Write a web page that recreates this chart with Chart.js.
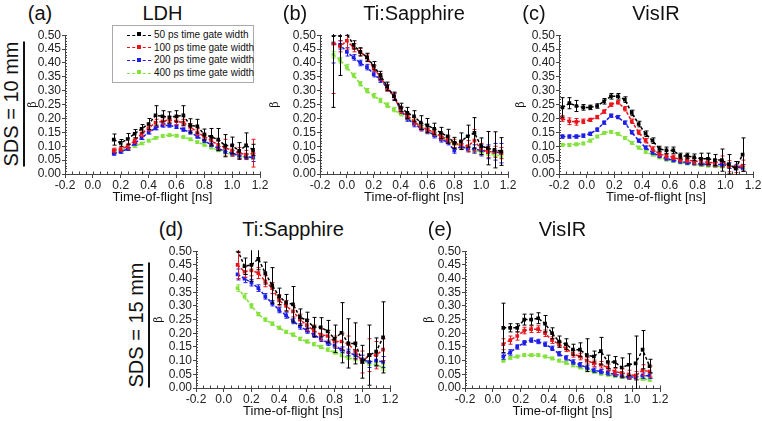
<!DOCTYPE html>
<html>
<head>
<meta charset="utf-8">
<script src="https://cdn.jsdelivr.net/npm/chart.js@4.4.0/dist/chart.umd.min.js"></script>
<style>
  body { margin: 0; width: 762px; height: 421px; background: #fff; position: relative; overflow: hidden;
         font-family: "Liberation Sans", Arial, sans-serif; color: #111; }
  canvas { position: absolute; }
  .ttl { position: absolute; font-size: 20px; line-height: 20px; white-space: nowrap; transform: translate(-50%, -50%); }
  .sds { position: absolute; font-size: 20px; line-height: 20px; white-space: nowrap; text-decoration: underline;
         text-decoration-thickness: 1.5px; text-underline-offset: 5px; transform: translate(-50%, -50%) rotate(-90deg); }
  #legend { position: absolute; left: 112px; top: 25px; width: 142px; height: 58px; border: 1px solid #aaa;
            background: #fff; font-size: 10px; line-height: 12.6px; padding-top: 3px; box-sizing: border-box; }
  #legend .row { white-space: nowrap; padding-left: 14px; }
  #legend .smp { display: inline-block; position: relative; width: 24px; height: 0; border-top: 1.5px dashed;
                 vertical-align: middle; margin-right: 3px; }
  #legend .smp i { position: absolute; left: 10px; top: -3.5px; width: 4px; height: 4px; }
</style>
</head>
<body>
<div id="legend"></div>
<script>
// ---- data ----
const seriesNames = ['50 ps time gate width', '100 ps time gate width', '200 ps time gate width', '400 ps time gate width'];
const xTicks = [-0.2, 0.0, 0.2, 0.4, 0.6, 0.8, 1.0, 1.2];
const xTickLabels = ['-0.2', '0.0', '0.2', '0.4', '0.6', '0.8', '1.0', '1.2'];
const yTicks = [0.00, 0.05, 0.10, 0.15, 0.20, 0.25, 0.30, 0.35, 0.40, 0.45, 0.50];
const yTickLabels = ['0.00', '0.05', '0.10', '0.15', '0.20', '0.25', '0.30', '0.35', '0.40', '0.45', '0.50'];

// (a) LDH, SDS = 10 mm
const aTime = [0.15, 0.20, 0.25, 0.30, 0.35, 0.40, 0.45, 0.50, 0.55, 0.60, 0.65, 0.70, 0.75, 0.80, 0.85, 0.90, 0.95, 1.00, 1.05, 1.10, 1.15];
const aBlack = [0.124, 0.112, 0.126, 0.145, 0.163, 0.180, 0.211, 0.208, 0.204, 0.208, 0.211, 0.174, 0.172, 0.142, 0.134, 0.124, 0.102, 0.103, 0.083, 0.103, 0.087];
const aBlackErr = [0.02, 0.012, 0.02, 0.015, 0.015, 0.02, 0.035, 0.02, 0.02, 0.02, 0.035, 0.025, 0.025, 0.02, 0.03, 0.04, 0.04, 0.03, 0.03, 0.045, 0.02];
const aRed = [0.085, 0.090, 0.100, 0.120, 0.145, 0.165, 0.185, 0.190, 0.195, 0.190, 0.185, 0.170, 0.150, 0.135, 0.120, 0.105, 0.095, 0.085, 0.075, 0.070, 0.075];
const aRedErr = [0.008, 0.008, 0.01, 0.01, 0.01, 0.01, 0.012, 0.012, 0.012, 0.012, 0.012, 0.012, 0.012, 0.012, 0.015, 0.015, 0.03, 0.02, 0.02, 0.015, 0.05];
const aBlue = [0.073, 0.080, 0.090, 0.110, 0.130, 0.150, 0.165, 0.175, 0.175, 0.170, 0.160, 0.150, 0.135, 0.120, 0.105, 0.092, 0.082, 0.075, 0.067, 0.062, 0.060];
const aBlueErr = [0.005, 0.005, 0.005, 0.006, 0.006, 0.006, 0.006, 0.006, 0.006, 0.006, 0.006, 0.006, 0.006, 0.006, 0.006, 0.007, 0.008, 0.01, 0.01, 0.01, 0.015];
const aGreen = [0.080, 0.085, 0.090, 0.100, 0.110, 0.120, 0.130, 0.137, 0.140, 0.138, 0.133, 0.125, 0.115, 0.105, 0.095, 0.085, 0.077, 0.070, 0.065, 0.060, 0.058];
const aGreenErr = [0.004, 0.004, 0.004, 0.004, 0.004, 0.004, 0.004, 0.004, 0.004, 0.004, 0.004, 0.004, 0.004, 0.004, 0.004, 0.004, 0.004, 0.004, 0.004, 0.004, 0.004];

// (b) Ti:Sapphire, SDS = 10 mm
const bTime = [-0.10, -0.05, 0.00, 0.05, 0.10, 0.15, 0.20, 0.25, 0.30, 0.35, 0.40, 0.45, 0.50, 0.55, 0.60, 0.65, 0.70, 0.75, 0.80, 0.85, 0.90, 0.95, 1.00, 1.05, 1.10, 1.15];
const bBlack = [0.500, 0.500, 0.505, 0.465, 0.440, 0.420, 0.390, 0.355, 0.316, 0.280, 0.240, 0.220, 0.208, 0.185, 0.175, 0.163, 0.148, 0.136, 0.112, 0.118, 0.136, 0.148, 0.100, 0.093, 0.087, 0.081];
const bBlackErr = [0.26, 0.145, 0.005, 0.015, 0.015, 0.015, 0.015, 0.015, 0.015, 0.015, 0.015, 0.02, 0.02, 0.025, 0.025, 0.02, 0.02, 0.025, 0.02, 0.03, 0.04, 0.055, 0.03, 0.06, 0.065, 0.05];
const bRed = [0.470, 0.460, 0.480, 0.455, 0.440, 0.420, 0.380, 0.350, 0.310, 0.280, 0.230, 0.210, 0.190, 0.170, 0.160, 0.150, 0.135, 0.125, 0.110, 0.105, 0.100, 0.120, 0.090, 0.080, 0.080, 0.075];
const bRedErr = [0.18, 0.02, 0.03, 0.015, 0.012, 0.012, 0.012, 0.012, 0.012, 0.012, 0.012, 0.012, 0.012, 0.012, 0.012, 0.012, 0.012, 0.012, 0.015, 0.015, 0.02, 0.04, 0.02, 0.02, 0.02, 0.02];
const bBlue = [0.470, 0.465, 0.440, 0.420, 0.400, 0.385, 0.360, 0.340, 0.310, 0.280, 0.230, 0.200, 0.180, 0.165, 0.155, 0.140, 0.125, 0.115, 0.085, 0.100, 0.090, 0.090, 0.085, 0.080, 0.080, 0.075];
const bBlueErr = [0.07, 0.015, 0.015, 0.01, 0.01, 0.01, 0.01, 0.01, 0.01, 0.01, 0.01, 0.01, 0.01, 0.01, 0.01, 0.01, 0.01, 0.01, 0.01, 0.01, 0.01, 0.015, 0.02, 0.025, 0.03, 0.035];
const bGreen = [0.430, 0.410, 0.385, 0.355, 0.325, 0.300, 0.282, 0.265, 0.248, 0.232, 0.217, 0.202, 0.187, 0.172, 0.158, 0.144, 0.131, 0.120, 0.110, 0.100, 0.092, 0.085, 0.080, 0.075, 0.070, 0.065];
const bGreenErr = [0.012, 0.01, 0.01, 0.008, 0.008, 0.008, 0.008, 0.008, 0.008, 0.008, 0.008, 0.008, 0.008, 0.008, 0.008, 0.008, 0.008, 0.008, 0.008, 0.008, 0.008, 0.008, 0.008, 0.008, 0.008, 0.008];

// (c) VisIR, SDS = 10 mm
const cTime = [-0.175, -0.125, -0.075, -0.025, 0.025, 0.075, 0.125, 0.175, 0.225, 0.275, 0.325, 0.375, 0.425, 0.475, 0.525, 0.575, 0.625, 0.675, 0.725, 0.775, 0.825, 0.875, 0.925, 0.975, 1.025, 1.075, 1.125];
const cBlack = [0.240, 0.255, 0.245, 0.240, 0.240, 0.245, 0.262, 0.280, 0.280, 0.268, 0.220, 0.180, 0.145, 0.120, 0.090, 0.085, 0.085, 0.065, 0.065, 0.060, 0.055, 0.055, 0.050, 0.050, 0.035, 0.020, 0.070];
const cBlackErr = [0.035, 0.02, 0.02, 0.01, 0.008, 0.008, 0.01, 0.01, 0.01, 0.01, 0.01, 0.01, 0.01, 0.01, 0.01, 0.012, 0.012, 0.01, 0.01, 0.012, 0.02, 0.02, 0.02, 0.04, 0.035, 0.025, 0.06];
const cRed = [0.200, 0.190, 0.188, 0.190, 0.195, 0.205, 0.225, 0.250, 0.258, 0.235, 0.190, 0.150, 0.120, 0.090, 0.072, 0.065, 0.060, 0.052, 0.050, 0.046, 0.045, 0.042, 0.040, 0.045, 0.028, 0.025, 0.030];
const cRedErr = [0.01, 0.012, 0.012, 0.008, 0.006, 0.006, 0.006, 0.006, 0.006, 0.008, 0.008, 0.008, 0.008, 0.008, 0.008, 0.008, 0.008, 0.008, 0.008, 0.01, 0.012, 0.012, 0.012, 0.02, 0.02, 0.02, 0.02];
const cBlue = [0.135, 0.135, 0.135, 0.138, 0.145, 0.160, 0.185, 0.210, 0.205, 0.185, 0.150, 0.120, 0.095, 0.077, 0.065, 0.056, 0.050, 0.045, 0.041, 0.039, 0.036, 0.035, 0.034, 0.034, 0.030, 0.025, 0.022];
const cBlueErr = [0.006, 0.006, 0.006, 0.006, 0.006, 0.006, 0.006, 0.006, 0.006, 0.006, 0.006, 0.006, 0.006, 0.006, 0.006, 0.006, 0.006, 0.006, 0.006, 0.006, 0.006, 0.006, 0.008, 0.008, 0.01, 0.01, 0.012];
const cGreen = [0.105, 0.105, 0.107, 0.110, 0.120, 0.135, 0.148, 0.152, 0.145, 0.130, 0.112, 0.095, 0.080, 0.070, 0.060, 0.052, 0.047, 0.042, 0.038, 0.035, 0.032, 0.030, 0.028, 0.027, 0.025, 0.025, 0.023];
const cGreenErr = [0.005, 0.005, 0.005, 0.005, 0.005, 0.005, 0.005, 0.005, 0.005, 0.005, 0.005, 0.005, 0.005, 0.005, 0.005, 0.005, 0.005, 0.005, 0.005, 0.005, 0.005, 0.005, 0.005, 0.005, 0.005, 0.005, 0.005];

// (d) Ti:Sapphire, SDS = 15 mm
const dTime = [0.10, 0.15, 0.20, 0.25, 0.30, 0.35, 0.40, 0.45, 0.50, 0.55, 0.60, 0.65, 0.70, 0.75, 0.80, 0.85, 0.90, 0.95, 1.00, 1.05, 1.10, 1.15];
const dBlack = [0.505, 0.445, 0.450, 0.472, 0.420, 0.375, 0.335, 0.312, 0.306, 0.259, 0.247, 0.223, 0.222, 0.207, 0.180, 0.202, 0.163, 0.163, 0.096, 0.120, 0.133, 0.185];
const dBlackErr = [0.01, 0.03, 0.06, 0.04, 0.04, 0.065, 0.03, 0.03, 0.065, 0.03, 0.03, 0.035, 0.035, 0.04, 0.05, 0.11, 0.09, 0.075, 0.06, 0.11, 0.05, 0.13];
const dRed = [0.450, 0.425, 0.430, 0.420, 0.390, 0.365, 0.320, 0.300, 0.280, 0.250, 0.230, 0.210, 0.195, 0.190, 0.170, 0.170, 0.160, 0.135, 0.095, 0.120, 0.120, 0.140];
const dRedErr = [0.05, 0.02, 0.02, 0.02, 0.02, 0.02, 0.02, 0.02, 0.02, 0.02, 0.02, 0.02, 0.02, 0.02, 0.02, 0.03, 0.03, 0.03, 0.04, 0.06, 0.05, 0.04];
const dBlue = [0.415, 0.400, 0.385, 0.365, 0.335, 0.310, 0.285, 0.265, 0.245, 0.225, 0.210, 0.195, 0.180, 0.165, 0.155, 0.140, 0.130, 0.120, 0.105, 0.095, 0.100, 0.095];
const dBlueErr = [0.02, 0.015, 0.012, 0.012, 0.01, 0.01, 0.01, 0.01, 0.01, 0.01, 0.01, 0.01, 0.01, 0.01, 0.01, 0.01, 0.012, 0.012, 0.015, 0.02, 0.02, 0.02];
const dGreen = [0.365, 0.335, 0.300, 0.270, 0.250, 0.235, 0.220, 0.205, 0.195, 0.180, 0.170, 0.160, 0.150, 0.140, 0.130, 0.120, 0.110, 0.105, 0.100, 0.090, 0.085, 0.075];
const dGreenErr = [0.012, 0.01, 0.008, 0.006, 0.006, 0.006, 0.006, 0.006, 0.006, 0.006, 0.006, 0.006, 0.006, 0.006, 0.006, 0.006, 0.006, 0.006, 0.008, 0.008, 0.008, 0.01];

// (e) VisIR, SDS = 15 mm
const eTime = [0.075, 0.125, 0.175, 0.225, 0.275, 0.325, 0.375, 0.425, 0.475, 0.525, 0.575, 0.625, 0.675, 0.725, 0.775, 0.825, 0.875, 0.925, 0.975, 1.025, 1.075, 1.125];
const eBlack = [0.220, 0.220, 0.220, 0.250, 0.250, 0.255, 0.235, 0.200, 0.170, 0.160, 0.140, 0.140, 0.120, 0.115, 0.135, 0.095, 0.095, 0.075, 0.085, 0.090, 0.140, 0.080];
const eBlackErr = [0.09, 0.015, 0.015, 0.02, 0.02, 0.02, 0.03, 0.02, 0.02, 0.02, 0.02, 0.025, 0.06, 0.02, 0.05, 0.025, 0.02, 0.035, 0.04, 0.10, 0.07, 0.025];
const eRed = [0.160, 0.175, 0.190, 0.210, 0.215, 0.215, 0.200, 0.175, 0.160, 0.145, 0.125, 0.115, 0.100, 0.090, 0.085, 0.075, 0.060, 0.055, 0.050, 0.045, 0.065, 0.060];
const eRedErr = [0.02, 0.015, 0.015, 0.012, 0.012, 0.012, 0.012, 0.012, 0.012, 0.012, 0.012, 0.012, 0.012, 0.012, 0.012, 0.012, 0.012, 0.015, 0.015, 0.015, 0.02, 0.02];
const eBlue = [0.115, 0.130, 0.150, 0.165, 0.175, 0.170, 0.160, 0.145, 0.125, 0.110, 0.095, 0.085, 0.075, 0.065, 0.060, 0.055, 0.050, 0.045, 0.040, 0.040, 0.045, 0.045];
const eBlueErr = [0.01, 0.01, 0.008, 0.008, 0.008, 0.008, 0.008, 0.008, 0.008, 0.008, 0.008, 0.008, 0.008, 0.008, 0.008, 0.008, 0.008, 0.008, 0.008, 0.01, 0.01, 0.01];
const eGreen = [0.100, 0.110, 0.115, 0.120, 0.120, 0.120, 0.115, 0.108, 0.100, 0.092, 0.083, 0.075, 0.065, 0.058, 0.052, 0.048, 0.043, 0.040, 0.037, 0.035, 0.033, 0.030];
const eGreenErr = [0.005, 0.005, 0.005, 0.005, 0.005, 0.005, 0.005, 0.005, 0.005, 0.005, 0.005, 0.005, 0.005, 0.005, 0.005, 0.005, 0.005, 0.005, 0.005, 0.005, 0.005, 0.005];

// ---- styling / layout ----
const FONT = '"Liberation Sans", Arial, sans-serif';
const colors = ['#000000', '#e8161c', '#1d1de8', '#84e23c'];
const XH = 34, PT = 8, PR = 10;

const panels = [
  { letter: '(a)', title: 'LDH',         l: 65,  t: 35,  r: 260, b: 174, yw: 38, x: aTime, ys: [aBlack, aRed, aBlue, aGreen], errs: [aBlackErr, aRedErr, aBlueErr, aGreenErr] },
  { letter: '(b)', title: 'Ti:Sapphire', l: 320, t: 35,  r: 508, b: 174, yw: 51, x: bTime, ys: [bBlack, bRed, bBlue, bGreen], errs: [bBlackErr, bRedErr, bBlueErr, bGreenErr] },
  { letter: '(c)', title: 'VisIR',       l: 559, t: 35,  r: 753, b: 174, yw: 44, x: cTime, ys: [cBlack, cRed, cBlue, cGreen], errs: [cBlackErr, cRedErr, cBlueErr, cGreenErr] },
  { letter: '(d)', title: 'Ti:Sapphire', l: 196, t: 251, r: 390, b: 388, yw: 43, x: dTime, ys: [dBlack, dRed, dBlue, dGreen], errs: [dBlackErr, dRedErr, dBlueErr, dGreenErr] },
  { letter: '(e)', title: 'VisIR',       l: 465, t: 251, r: 660, b: 388, yw: 42, x: eTime, ys: [eBlack, eRed, eBlue, eGreen], errs: [eBlackErr, eRedErr, eBlueErr, eGreenErr] }
];

// error bars drawn underneath each dataset
const errorBars = {
  id: 'errorBars',
  beforeDatasetDraw(chart, args) {
    const ds = chart.data.datasets[args.index];
    if (!ds.err) return;
    const { ctx, chartArea: a, scales: { x, y } } = chart;
    ctx.save();
    ctx.beginPath();
    ctx.rect(a.left, a.top - 1, a.right - a.left, a.bottom - a.top + 2);
    ctx.clip();
    ctx.strokeStyle = ds.borderColor;
    ctx.lineWidth = 1;
    ds.data.forEach((p, i) => {
      const e = ds.err[i];
      const px = Math.round(x.getPixelForValue(p.x)) + 0.5;
      const y1 = y.getPixelForValue(p.y + e), y2 = y.getPixelForValue(p.y - e);
      ctx.beginPath();
      ctx.moveTo(px, y1); ctx.lineTo(px, y2);
      ctx.moveTo(px - 2, y1); ctx.lineTo(px + 2, y1);
      ctx.moveTo(px - 2, y2); ctx.lineTo(px + 2, y2);
      ctx.stroke();
    });
    ctx.restore();
  }
};

// small inward minor ticks like the original plot
const minorTicks = {
  id: 'minorTicks',
  afterDraw(chart) {
    const { ctx, chartArea: a, scales: { x, y } } = chart;
    ctx.save();
    ctx.strokeStyle = '#444';
    ctx.lineWidth = 1;
    ctx.beginPath();
    for (let k = 0; k <= 50; k++) {
      const py = Math.round(y.getPixelForValue(k / 100)) + 0.5;
      ctx.moveTo(a.left, py); ctx.lineTo(a.left + 2, py);
    }
    for (let k = -4; k <= 24; k++) {
      const px = Math.round(x.getPixelForValue(k / 20)) + 0.5;
      ctx.moveTo(px, a.bottom); ctx.lineTo(px, a.bottom - 2.5);
    }
    ctx.stroke();
    ctx.restore();
  }
};

function addDiv(cls, text, x, y) {
  const d = document.createElement('div');
  d.className = cls;
  d.textContent = text;
  d.style.left = x + 'px';
  d.style.top = y + 'px';
  document.body.appendChild(d);
}

panels.forEach(p => {
  const cv = document.createElement('canvas');
  const w = (p.r - p.l) + p.yw + PR, h = (p.b - p.t) + PT + XH;
  cv.width = w; cv.height = h;
  cv.style.left = (p.l - p.yw) + 'px';
  cv.style.top = (p.t - PT) + 'px';
  cv.style.width = w + 'px'; cv.style.height = h + 'px';
  document.body.appendChild(cv);

  const datasets = p.ys.map((ys, s) => ({
    label: seriesNames[s],
    data: ys.map((v, i) => ({ x: p.x[i], y: v })),
    err: p.errs[s],
    borderColor: colors[s],
    backgroundColor: colors[s],
    borderWidth: 1.5,
    borderDash: [3, 2],
    pointStyle: 'rect',
    pointRadius: 2.6,
    pointBorderWidth: 0,
    tension: 0
  }));

  new Chart(cv, {
    type: 'line',
    data: { datasets },
    plugins: [errorBars, minorTicks],
    options: {
      responsive: false,
      animation: false,
      devicePixelRatio: 1,
      layout: { padding: { top: PT, right: PR, left: 0, bottom: 0 } },
      plugins: { legend: { display: false }, tooltip: { enabled: false } },
      scales: {
        x: {
          type: 'linear', min: -0.2, max: 1.2,
          afterBuildTicks: s => { s.ticks = xTicks.map(v => ({ value: v })); },
          afterFit: s => { s.height = XH; },
          ticks: { autoSkip: false, maxRotation: 0, padding: 0, color: '#222', font: { family: FONT, size: 12 },
                   callback: (v, i) => xTickLabels[i] },
          grid: { drawOnChartArea: false, drawTicks: true, tickLength: 4, tickColor: '#444' },
          border: { display: true, color: '#444', width: 1 },
          title: { display: true, text: 'Time-of-flight [ns]', color: '#111', font: { family: FONT, size: 13 },
                   padding: { top: 0, bottom: 3 } }
        },
        y: {
          type: 'linear', min: 0, max: 0.5,
          afterBuildTicks: s => { s.ticks = yTicks.map(v => ({ value: v })); },
          afterFit: s => { s.width = p.yw; },
          ticks: { autoSkip: false, padding: 1, color: '#222', font: { family: FONT, size: 12 },
                   callback: (v, i) => yTickLabels[i] },
          grid: { drawOnChartArea: false, drawTicks: true, tickLength: 3, tickColor: '#444' },
          border: { display: true, color: '#444', width: 1 },
          title: { display: true, text: 'β', color: '#111', font: { family: '"DejaVu Serif", serif', size: 11 },
                   padding: { top: 0, bottom: 0 } }
        }
      }
    }
  });

  addDiv('ttl', p.letter, p.l - 25, p.t - 22);
  addDiv('ttl', p.title, (p.l + p.r) / 2, p.t - 22);
});

addDiv('sds', 'SDS = 10 mm', 11, 104);
addDiv('sds', 'SDS = 15 mm', 136, 325);

// legend (panel a)
const legend = document.getElementById('legend');
seriesNames.forEach((name, s) => {
  const row = document.createElement('div');
  row.className = 'row';
  row.innerHTML = `<span class="smp" style="border-top-color:${colors[s]}"><i style="background:${colors[s]}"></i></span>${name}`;
  legend.appendChild(row);
});
</script>
</body>
</html>
